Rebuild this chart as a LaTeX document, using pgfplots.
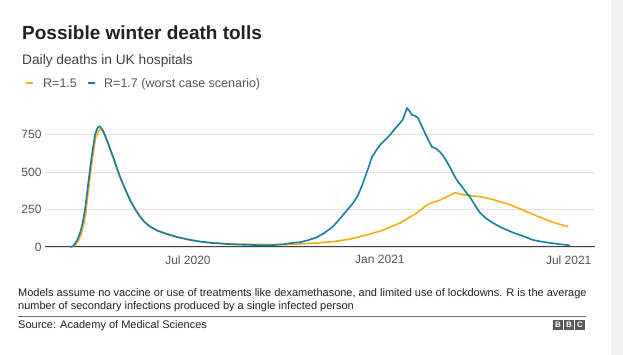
\documentclass[border=0pt]{standalone}
\usepackage{pgfplots}
\pgfplotsset{compat=1.18}
\usepackage{fontspec}
\setmainfont{Liberation Sans}
\definecolor{bbcorange}{HTML}{FAAB18}
\definecolor{bbcblue}{HTML}{1380A1}
\definecolor{txt}{HTML}{222222}
\definecolor{sub}{HTML}{404040}
\definecolor{tick}{HTML}{555555}
\begin{document}
\begin{tikzpicture}[x=1pt,y=1pt]
\fill[white] (0,0) rectangle (623,355);
\fill[black!5] (611,0) rectangle (623,355);
\node[anchor=base west, inner sep=0, text=txt, font=\bfseries\fontsize{19}{21}\selectfont] at (22,355-40) {Possible winter death tolls};
\node[anchor=base west, inner sep=0, text=sub, font=\fontsize{13.7}{15}\selectfont] at (22,355-65) {Daily deaths in UK hospitals};
\draw[bbcorange, line width=1.6pt] (26,355-83) -- (33,355-83);
\node[anchor=base west, inner sep=0, text=tick, font=\fontsize{12.5}{14}\selectfont] at (43,355-87.5) {R=1.5};
\draw[bbcblue, line width=1.6pt] (88,355-83) -- (95,355-83);
\node[anchor=base west, inner sep=0, text=tick, font=\fontsize{12.5}{14}\selectfont] at (104,355-87.5) {R=1.7 (worst case scenario)};
\begin{axis}[
  at={(45pt,108pt)}, anchor=south west,
  scale only axis, width=550pt, height=142.5pt,
  xmin=44.9, xmax=572.2, ymin=0, ymax=950,
  axis x line*=bottom, axis y line*=left,
  y axis line style={draw=none},
  x axis line style={-, draw=black!75, line width=1pt},
  major tick length=0pt,
  ytick={0,250,500,750}, ymajorgrids,
  grid style={draw=black!12, line width=0.8pt},
  xtick={182,366,547}, xticklabels={Jul 2020, Jan 2021, Jul 2021},
  /pgf/number format/assume math mode=true,
  tick label style={font=\fontsize{12}{14}\selectfont, text=tick},
  xticklabel style={yshift=-5pt},
  clip=false,
]
\addplot[bbcorange, line width=1.6pt, line join=round] coordinates {
(69,0)(72,4)(74.5,18)(77,45)(79.5,85)(82,150)(84.2,240)(87.2,420)(90.4,595)(93.6,735)(96,770)(98,787)(100,775)(102,748)(105.3,690)(110.1,598)(116.8,465)(121.5,388)(126.4,315)(131,258)(136,205)(140.5,167)(145.6,137)(153,108)(161.6,87)(171.5,67)(182,50)(193.5,36)(205,28)(219.4,22)(230,19)(241.4,18)(252,16)(263.5,15)(273,16)(282.7,18)(289.4,20)(305.7,27)(321,36)(337,52)(353.3,80)(369.3,113)(385.3,160)(401.3,227)(410.9,280)(417,298)(423.6,313)(431,338)(438,362)(442.8,353)(449,345)(455.6,340)(462,335)(468.4,327)(475,315)(481.1,302)(487,290)(493.9,273)(500,256)(506.7,236)(513,217)(519.5,198)(526,180)(532.2,164)(539,150)(546.6,136)
};
\addplot[bbcblue, line width=1.6pt, line join=round] coordinates {
(69,0)(71.5,5)(73.7,22)(76,50)(78.5,93)(81,160)(83.2,247)(86.4,427)(89.6,600)(92.8,747)(95,790)(96.9,805)(98.7,795)(100.6,775)(103,735)(105.3,693)(110.1,602)(116.8,469)(121.5,390)(126.4,313)(131,255)(136,202)(140.5,165)(145.6,136)(153,108)(161.6,87)(171.5,67)(182,50)(193.5,36)(205,27)(219.4,20)(230,16)(241.4,14)(252,12)(263.5,13)(273,18)(282.7,28)(289.4,32)(297,45)(305.7,65)(313,95)(321,136)(330.6,213)(340.2,293)(345,345)(349.8,427)(354,510)(358.4,600)(362,640)(366.1,680)(371,715)(375.7,747)(380,785)(385.3,827)(388,850)(392,927)(394.5,905)(396.8,880)(399.5,875)(402.5,860)(405.5,815)(409.2,760)(412,720)(415.9,667)(420,655)(423.6,633)(427,605)(430.3,567)(434,520)(438,467)(441.5,428)(445.7,393)(449,360)(452.4,333)(457,280)(462,227)(468,190)(474.4,160)(481,135)(487.9,113)(494,95)(500.3,80)(506,65)(512.8,47)(520,37)(529.1,27)(537,20)(545.4,13)(548,12)
};
\end{axis}
\node[anchor=base west, inner sep=0, text=txt, font=\fontsize{11}{13}\selectfont] at (18,355-297) {Models assume no vaccine or use of treatments like dexamethasone, and limited use of lockdowns. R is the average};
\node[anchor=base west, inner sep=0, text=txt, font=\fontsize{11}{13}\selectfont] at (18,355-310) {number of secondary infections produced by a single infected person};
\draw[black!55, line width=0.8pt] (18,355-316) -- (586,355-316);
\node[anchor=base west, inner sep=0, text=txt, font=\fontsize{11}{13}\selectfont] at (18,355-329) {Source: Academy of Medical Sciences};
\foreach \i/\l in {0/B,1/B,2/C}{
  \node[anchor=south west, inner sep=0, minimum width=9.5pt, minimum height=9.5pt, fill=black!65, text=white, font=\bfseries\fontsize{8}{8}\selectfont] at (553+\i*11,355-330) {\l};
}
\end{tikzpicture}
\end{document}
